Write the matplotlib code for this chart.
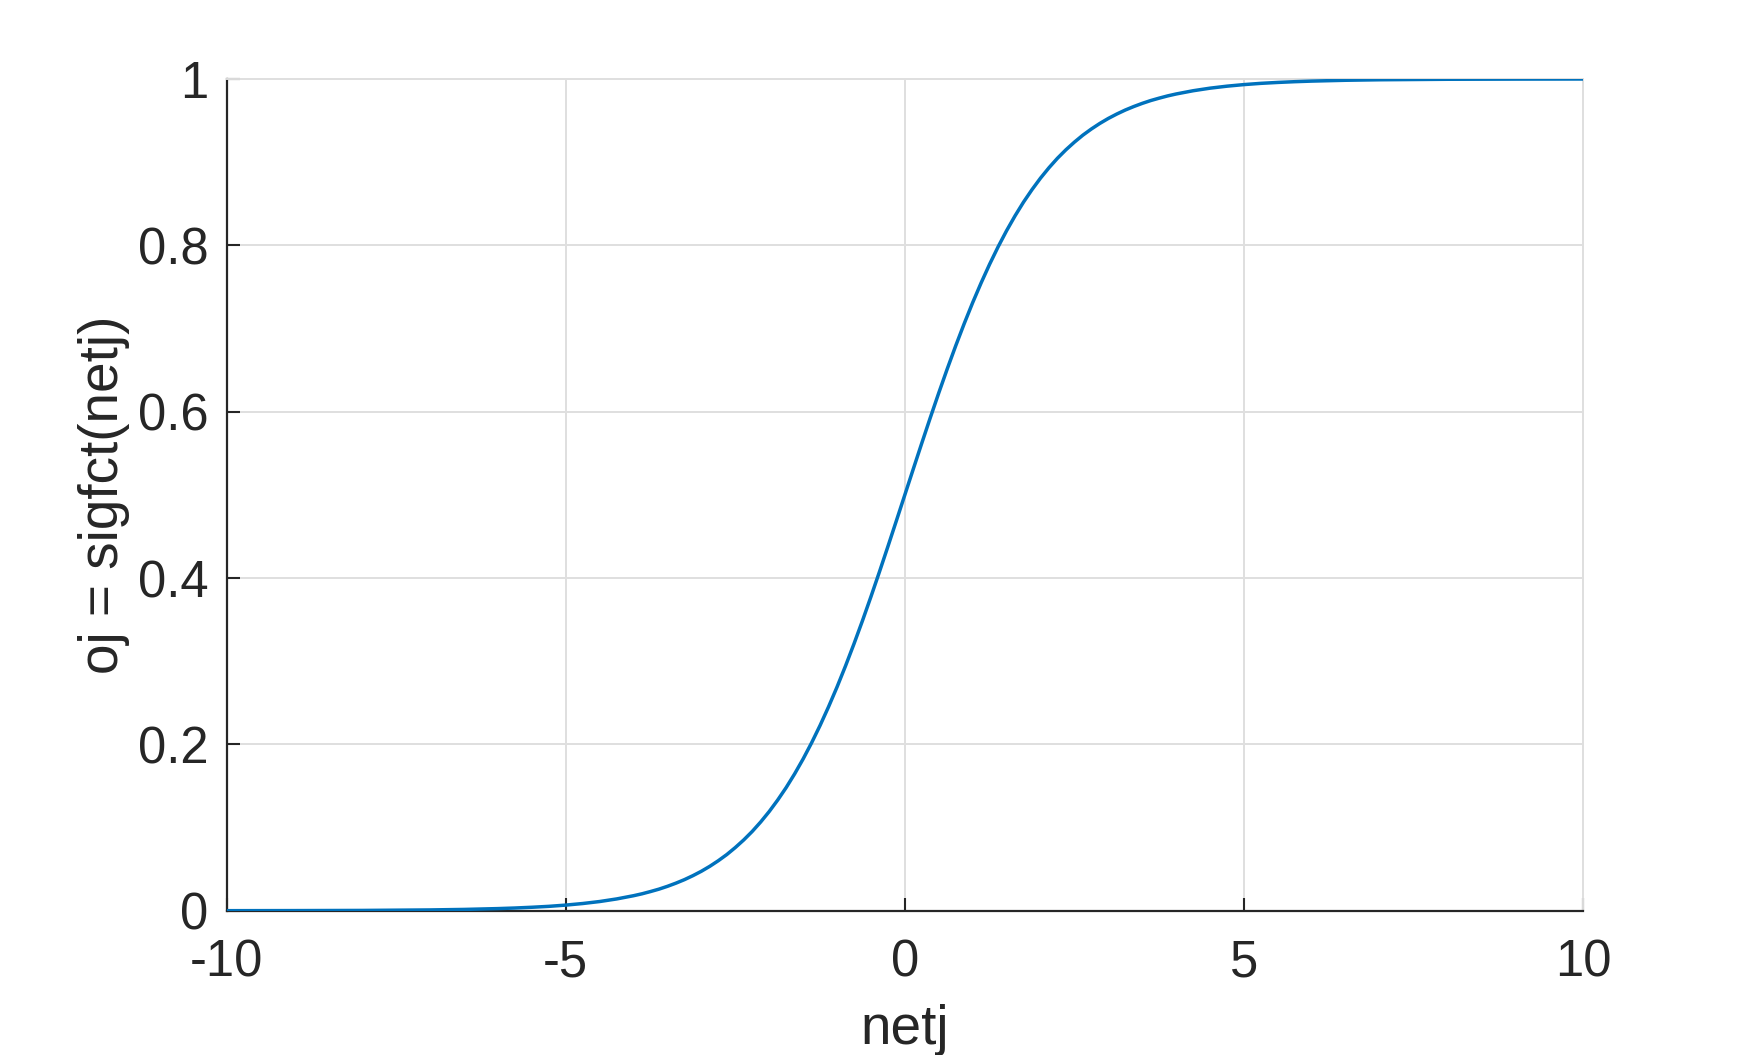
import matplotlib
matplotlib.use("Agg")
import matplotlib.pyplot as plt

# curve (netj -> oj)
netj = [-10, -9, -8, -7.5, -7, -6.5, -6, -5.75, -5.5, -5.25, -5,
        -4.75, -4.5, -4.25, -4,
        -3.875, -3.75, -3.625, -3.5, -3.375, -3.25, -3.125, -3,
        -2.875, -2.75, -2.625, -2.5, -2.375, -2.25, -2.125, -2,
        -1.875, -1.75, -1.625, -1.5, -1.375, -1.25, -1.125, -1,
        -0.875, -0.75, -0.625, -0.5, -0.375, -0.25, -0.125, 0,
        0.125, 0.25, 0.375, 0.5, 0.625, 0.75, 0.875, 1,
        1.125, 1.25, 1.375, 1.5, 1.625, 1.75, 1.875, 2,
        2.125, 2.25, 2.375, 2.5, 2.625, 2.75, 2.875, 3,
        3.125, 3.25, 3.375, 3.5, 3.625, 3.75, 3.875, 4,
        4.25, 4.5, 4.75, 5, 5.25, 5.5, 5.75, 6, 6.5, 7, 7.5, 8, 9, 10]
oj = [0.0000, 0.0001, 0.0003, 0.0006, 0.0009, 0.0015, 0.0025, 0.0032, 0.0041, 0.0052, 0.0067,
      0.0086, 0.0110, 0.0141, 0.0180,
      0.0203, 0.0230, 0.0259, 0.0293, 0.0331, 0.0373, 0.0421, 0.0474,
      0.0534, 0.0601, 0.0675, 0.0759, 0.0851, 0.0953, 0.1067, 0.1192,
      0.1330, 0.1480, 0.1645, 0.1824, 0.2018, 0.2227, 0.2451, 0.2689,
      0.2942, 0.3208, 0.3486, 0.3775, 0.4073, 0.4378, 0.4688, 0.5000,
      0.5312, 0.5622, 0.5927, 0.6225, 0.6514, 0.6792, 0.7058, 0.7311,
      0.7549, 0.7773, 0.7982, 0.8176, 0.8355, 0.8520, 0.8670, 0.8808,
      0.8933, 0.9047, 0.9149, 0.9241, 0.9325, 0.9399, 0.9466, 0.9526,
      0.9579, 0.9627, 0.9669, 0.9707, 0.9741, 0.9770, 0.9797, 0.9820,
      0.9859, 0.9890, 0.9914, 0.9933, 0.9948, 0.9959, 0.9968, 0.9975, 0.9985, 0.9991, 0.9994, 0.9997, 0.9999, 1.0000]

xticks = [-10, -5, 0, 5, 10]
xtick_labels = ["-10", "-5", "0", "5", "10"]
yticks = [0, 0.2, 0.4, 0.6, 0.8, 1]
ytick_labels = ["0", "0.2", "0.4", "0.6", "0.8", "1"]

plt.rcParams['font.family'] = ['Liberation Sans', 'DejaVu Sans']
plt.rcParams['axes.unicode_minus'] = False

txt = '#262626'
gridc = '#dfdfdf'

fig = plt.figure(figsize=(17.5, 10.55), dpi=100)
ax = fig.add_axes([0.1295, 0.1368, 0.7751, 0.7883])

ax.plot(netj, oj, color='#0072BD', lw=2.5, zorder=3, solid_joinstyle='round')

ax.set_xlim(-10, 10)
ax.set_ylim(0, 1)
ax.set_xticks(xticks)
ax.set_xticklabels(xtick_labels)
ax.set_yticks(yticks)
ax.set_yticklabels(ytick_labels)

ax.grid(True, color=gridc, lw=1.4)
ax.set_axisbelow(True)

for side in ['left', 'bottom']:
    ax.spines[side].set_color(txt)
    ax.spines[side].set_linewidth(1.6)
for side in ['top', 'right']:
    ax.spines[side].set_color(gridc)
    ax.spines[side].set_linewidth(1.4)

ax.tick_params(direction='in', length=9.5, width=1.5, colors=txt,
               labelsize=36.5, top=False, right=False)
ax.tick_params(axis='x', pad=20)
ax.tick_params(axis='y', pad=13)

ax.set_xlabel('netj', fontsize=39.5, color=txt, labelpad=12)
ax.set_ylabel('oj = sigfct(netj)', fontsize=39.5, color=txt, labelpad=6)

fig.savefig('out.png', dpi=100)
